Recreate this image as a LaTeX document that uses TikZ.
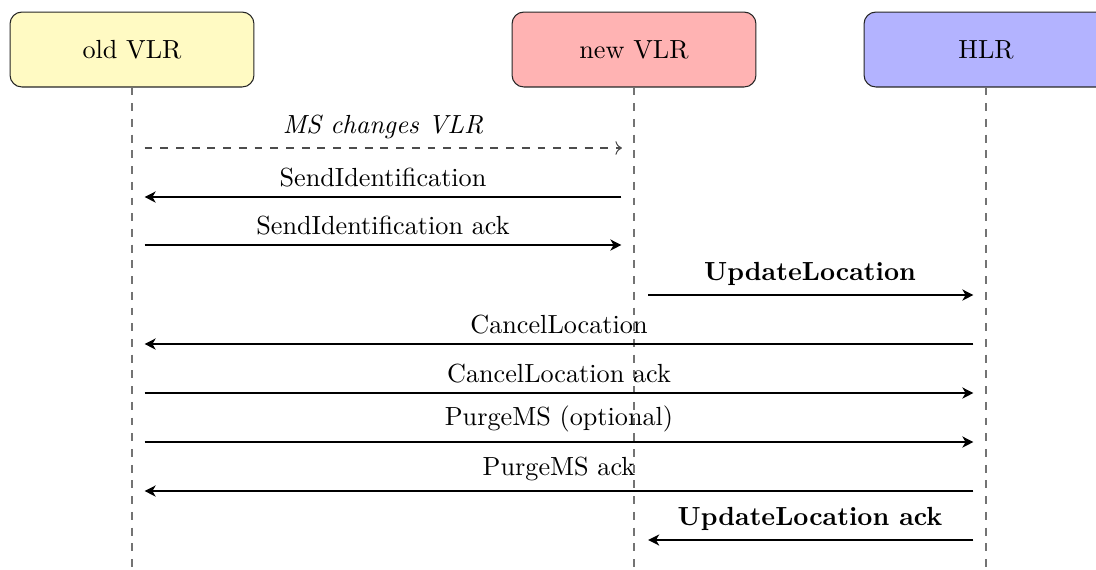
\documentclass[tikz,border=0pt]{standalone}
\usetikzlibrary{arrows.meta}
\definecolor{oldfill}{RGB}{255,250,195}
\definecolor{newfill}{RGB}{255,179,179}
\definecolor{hlrfill}{RGB}{179,179,255}
\begin{document}
\begin{tikzpicture}[x=0.3817pt,y=-0.3817pt,
  entity/.style={draw=black!85, rounded corners=4.5pt, minimum width=93.1pt,
                 minimum height=28.6pt, inner sep=0pt, font=\normalsize},
  lifeline/.style={dashed, draw=black!55, thin},
  msg/.style={thick, -{Stealth[length=4.2pt,width=4.2pt,inset=1.2pt]},
              shorten >=4.8pt, shorten <=4.8pt},
  async/.style={thin, dashed, draw=black!70, ->, shorten >=4.6pt, shorten <=4.8pt},
  lbl/.style={above, midway}
]
\useasboundingbox (0,0) rectangle (1096,569);

% participants
\node[entity, fill=oldfill] (old) at (132,49.5) {old VLR};
\node[entity, fill=newfill] (new) at (634,49.5) {new VLR};
\node[entity, fill=hlrfill] (hlr) at (986,49.5) {HLR};

% lifeline ends
\coordinate (oldend) at (132,569);
\coordinate (newend) at (634,569);
\coordinate (hlrend) at (986,569);
\draw[lifeline] (old.south) -- (oldend);
\draw[lifeline] (new.south) -- (newend);
\draw[lifeline] (hlr.south) -- (hlrend);

% message anchor points on the lifelines
\foreach \i/\y in {1/148,2/197,3/245,4/295,5/344,6/393,7/442,8/491,9/540}{
  \coordinate (o\i) at (132,\y);
  \coordinate (n\i) at (634,\y);
  \coordinate (h\i) at (986,\y);
}

% messages
\draw[async] (o1) -- node[lbl, text=black]{\itshape MS changes VLR} (n1);
\draw[msg] (n2) -- node[lbl]{SendIdentification} (o2);
\draw[msg] (o3) -- node[lbl]{SendIdentification ack} (n3);
\draw[msg, shorten <=5.4pt] (n4) -- node[lbl]{\bfseries UpdateLocation} (h4);
\draw[msg] (h5) -- node[lbl]{CancelLocation} (o5);
\draw[msg] (o6) -- node[lbl]{CancelLocation ack} (h6);
\draw[msg] (o7) -- node[lbl]{PurgeMS (optional)} (h7);
\draw[msg] (h8) -- node[lbl]{PurgeMS ack} (o8);
\draw[msg, shorten >=5.4pt] (h9) -- node[lbl]{\bfseries UpdateLocation ack} (n9);
\end{tikzpicture}
\end{document}
